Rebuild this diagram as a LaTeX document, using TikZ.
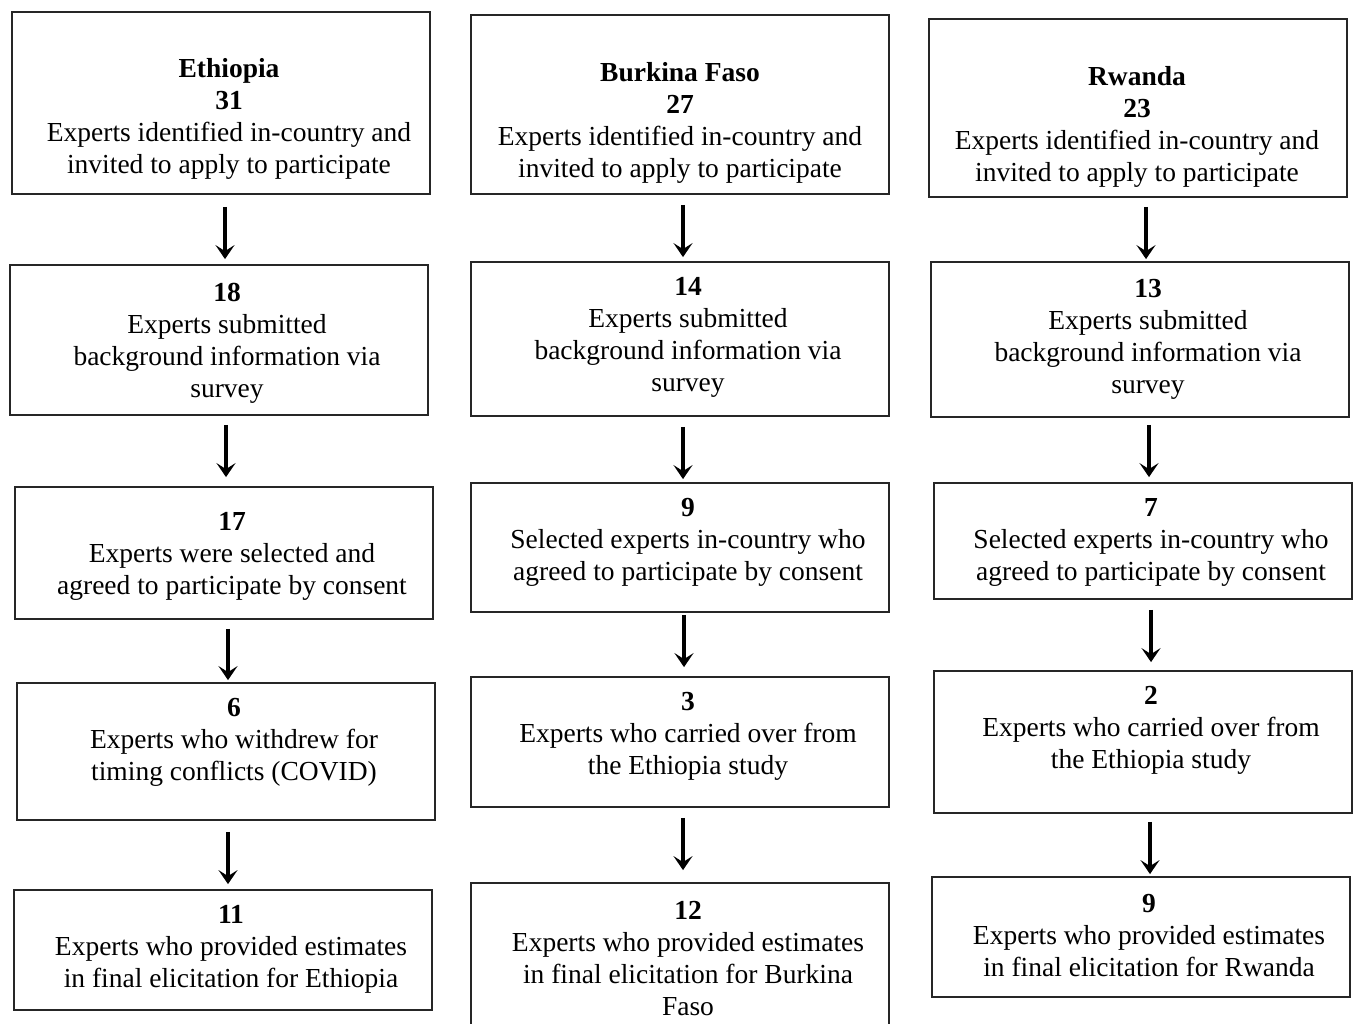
\documentclass[tikz,border=0pt]{standalone}
\usepackage{fontspec}
\setmainfont{Liberation Serif}
\usetikzlibrary{arrows.meta}
\tikzset{
  box/.style={draw=black!85, line width=1.8pt, rectangle, inner sep=0pt},
  txt/.style={align=center, inner sep=0pt, font=\fontsize{27.5}{32}\selectfont},
  arr/.style={line width=3.4pt, -{Stealth[length=14pt,width=19pt,inset=6pt]}}
}
\newcommand{\bx}[5]{\node[box, minimum width={#4-#2}, minimum height={#5-#3}] (#1) at ({(#2+#4)/2},{(#3+#5)/2}) {};}
\begin{document}
\begin{tikzpicture}[x=1pt,y=-1pt]
\clip (0,0) rectangle (1354,1023);
\fill[white] (0,0) rectangle (1354,1023);
% column 1
\bx{a1}{12}{12}{430}{194}
\bx{a2}{10}{265}{428}{415}
\bx{a3}{15}{487}{433}{619}
\bx{a4}{17}{683}{435}{820}
\bx{a5}{14}{890}{432}{1010}
\node[txt] (a1t) at (229,119) {\textbf{Ethiopia}\\\textbf{31}\\Experts identified in-country and\\invited to apply to participate};
\node[txt] (a2t) at (227,343) {\textbf{18}\\Experts submitted\\background information via\\survey};
\node[txt] (a3t) at (232,556) {\textbf{17}\\Experts were selected and\\agreed to participate by consent};
\node[txt] (a4t) at (234,742) {\textbf{6}\\Experts who withdrew for\\timing conflicts (COVID)};
\node[txt] (a5t) at (231,949) {\textbf{11}\\Experts who provided estimates\\in final elicitation for Ethiopia};
% column 2
\bx{b1}{471}{15}{889}{194}
\bx{b2}{471}{262}{889}{416}
\bx{b3}{471}{483}{889}{612}
\bx{b4}{471}{677}{889}{807}
\bx{b5}{471}{883}{889}{1040}
\node[txt] (b1t) at (680,122.5) {\textbf{Burkina Faso}\\\textbf{27}\\Experts identified in-country and\\invited to apply to participate};
\node[txt] (b2t) at (688,337) {\textbf{14}\\Experts submitted\\background information via\\survey};
\node[txt] (b3t) at (688,542.5) {\textbf{9}\\Selected experts in-country who\\agreed to participate by consent};
\node[txt] (b4t) at (688,736.5) {\textbf{3}\\Experts who carried over from\\the Ethiopia study};
\node[txt] (b5t) at (688,958.5) {\textbf{12}\\Experts who provided estimates\\in final elicitation for Burkina\\Faso};
% column 3
\bx{c1}{929}{19}{1347}{197}
\bx{c2}{931}{262}{1349}{417}
\bx{c3}{934}{483}{1352}{599}
\bx{c4}{934}{671}{1352}{813}
\bx{c5}{932}{877}{1350}{997}
\node[txt] (c1t) at (1137,126.5) {\textbf{Rwanda}\\\textbf{23}\\Experts identified in-country and\\invited to apply to participate};
\node[txt] (c2t) at (1148,339) {\textbf{13}\\Experts submitted\\background information via\\survey};
\node[txt] (c3t) at (1151,542) {\textbf{7}\\Selected experts in-country who\\agreed to participate by consent};
\node[txt] (c4t) at (1151,730) {\textbf{2}\\Experts who carried over from\\the Ethiopia study};
\node[txt] (c5t) at (1149,936) {\textbf{9}\\Experts who provided estimates\\in final elicitation for Rwanda};
% arrows
\draw[arr,shorten <=12pt,shorten >=5pt] (a1.south -| 225,0) -- (a2.north -| 225,0);
\draw[arr,shorten <=9pt,shorten >=9pt] (a2.south -| 226,0) -- (a3.north -| 226,0);
\draw[arr,shorten <=9pt,shorten >=2pt] (a3.south -| 228,0) -- (a4.north -| 228,0);
\draw[arr,shorten <=11pt,shorten >=5pt] (a4.south -| 228,0) -- (a5.north -| 228,0);
\draw[arr,shorten <=10pt,shorten >=4pt] (b1.south -| 683,0) -- (b2.north -| 683,0);
\draw[arr,shorten <=10pt,shorten >=3pt] (b2.south -| 683,0) -- (b3.north -| 683,0);
\draw[arr,shorten <=2pt,shorten >=9pt] (b3.south -| 684,0) -- (b4.north -| 684,0);
\draw[arr,shorten <=10pt,shorten >=12pt] (b4.south -| 683,0) -- (b5.north -| 683,0);
\draw[arr,shorten <=9pt,shorten >=2pt] (c1.south -| 1146,0) -- (c2.north -| 1146,0);
\draw[arr,shorten <=7pt,shorten >=5pt] (c2.south -| 1149,0) -- (c3.north -| 1149,0);
\draw[arr,shorten <=10pt,shorten >=8pt] (c3.south -| 1151,0) -- (c4.north -| 1151,0);
\draw[arr,shorten <=8pt,shorten >=2pt] (c4.south -| 1150,0) -- (c5.north -| 1150,0);
\end{tikzpicture}
\end{document}
